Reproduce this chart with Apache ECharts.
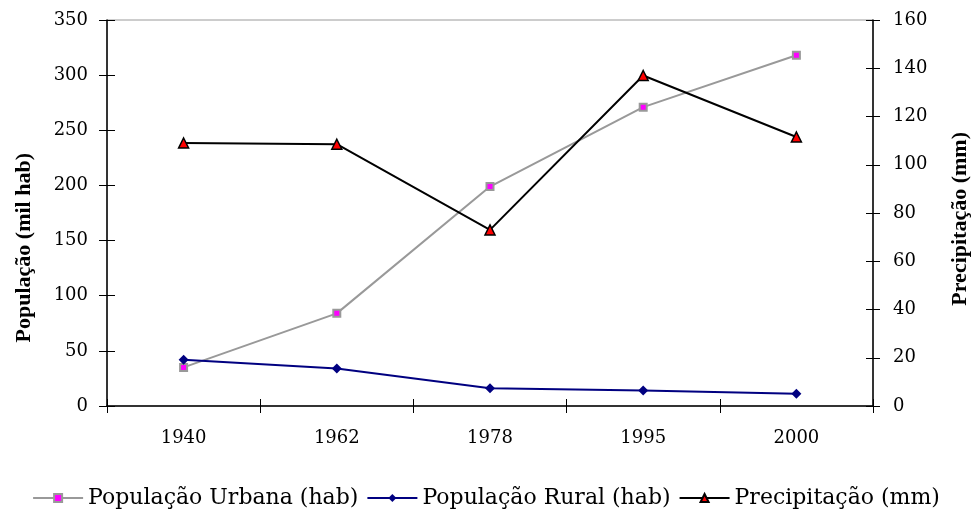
<!DOCTYPE html>
<html>
<head>
<meta charset="utf-8">
<script src="https://cdn.jsdelivr.net/npm/echarts@6/dist/echarts.min.js"></script>
<style>html,body{margin:0;padding:0;background:#fff}#c{width:972px;height:512px}</style>
</head>
<body>
<div id="c"></div>
<script>
const categories = ['1940', '1962', '1978', '1995', '2000'];
const urbana = [35, 84, 199, 271, 318];
const rural = [42, 34, 16, 14, 11];
const precipitacao = [109, 108.5, 73, 137, 111.5];
const leftTicks = { min: 0, max: 350, interval: 50 };
const rightTicks = { min: 0, max: 160, interval: 20 };

const FONT = "'DejaVu Serif', serif";
const chart = echarts.init(document.getElementById('c'));
const lbl = { color: '#000', fontFamily: FONT, fontSize: 18 };
chart.setOption({
  animation: false,
  backgroundColor: '#fff',
  grid: { left: 107, right: 99, top: 20, bottom: 106, show: true, borderColor: '#9a9a9a', borderWidth: 1 },
  xAxis: [
    { type: 'category', data: categories, boundaryGap: true,
      axisLine: { lineStyle: { color: '#000', width: 1.5 } },
      axisTick: { show: true, inside: false, length: 7, lineStyle: { color: '#000' } },
      axisLabel: Object.assign({ margin: 23 }, lbl) },
    { type: 'category', data: categories, boundaryGap: true, position: 'bottom',
      axisLine: { show: false },
      axisTick: { show: true, inside: true, length: 7, lineStyle: { color: '#000' } },
      axisLabel: { show: false } }
  ],
  yAxis: [
    { type: 'value', position: 'left', min: leftTicks.min, max: leftTicks.max, interval: leftTicks.interval,
      axisLine: { show: true, lineStyle: { color: '#000', width: 1.5 } },
      axisTick: { show: true, length: 8, lineStyle: { color: '#000' } },
      splitLine: { show: false },
      axisLabel: Object.assign({ margin: 19 }, lbl) },
    { type: 'value', position: 'right', min: rightTicks.min, max: rightTicks.max, interval: rightTicks.interval,
      axisLine: { show: true, lineStyle: { color: '#000', width: 1.5 } },
      axisTick: { show: true, length: 7, lineStyle: { color: '#000' } },
      splitLine: { show: false },
      axisLabel: Object.assign({ margin: 20 }, lbl) },
    { type: 'value', position: 'left', min: leftTicks.min, max: leftTicks.max, interval: leftTicks.interval,
      axisLine: { show: false }, axisTick: { show: true, inside: true, length: 8, lineStyle: { color: '#000' } },
      splitLine: { show: false }, axisLabel: { show: false } },
    { type: 'value', position: 'right', min: rightTicks.min, max: rightTicks.max, interval: rightTicks.interval,
      axisLine: { show: false }, axisTick: { show: true, inside: true, length: 7, lineStyle: { color: '#000' } },
      splitLine: { show: false }, axisLabel: { show: false } }
  ],
  legend: {
    left: 'center', top: 482, itemWidth: 50, itemHeight: 10, itemGap: 8,
    textStyle: { color: '#000', fontFamily: FONT, fontSize: 22 },
    data: ['População Urbana (hab)', 'População Rural (hab)', 'Precipitação (mm)']
  },
  graphic: [
    { type: 'text', left: 13, top: 153, rotation: Math.PI / 2,
      style: { text: 'População (mil hab)', font: "bold 22px 'Liberation Serif'", fill: '#000' } },
    { type: 'text', left: 949, top: 132, rotation: Math.PI / 2,
      style: { text: 'Precipitação (mm)', font: "bold 22px 'Liberation Serif'", fill: '#000' } }
  ],
  series: [
    { name: 'População Urbana (hab)', type: 'line', data: urbana, yAxisIndex: 0,
      symbol: 'rect', symbolSize: 7,
      lineStyle: { color: '#999999', width: 2 },
      itemStyle: { color: '#ff00ff', borderColor: '#999999', borderWidth: 2 } },
    { name: 'População Rural (hab)', type: 'line', data: rural, yAxisIndex: 0,
      symbol: 'diamond', symbolSize: 10,
      lineStyle: { color: '#000080', width: 2 },
      itemStyle: { color: '#000080', borderColor: '#000080', borderWidth: 0 } },
    { name: 'Precipitação (mm)', type: 'line', data: precipitacao, yAxisIndex: 1,
      symbol: 'triangle', symbolSize: 10,
      lineStyle: { color: '#000', width: 2 },
      itemStyle: { color: '#ff0000', borderColor: '#000', borderWidth: 1.5 } }
  ]
});
</script>
</body>
</html>
